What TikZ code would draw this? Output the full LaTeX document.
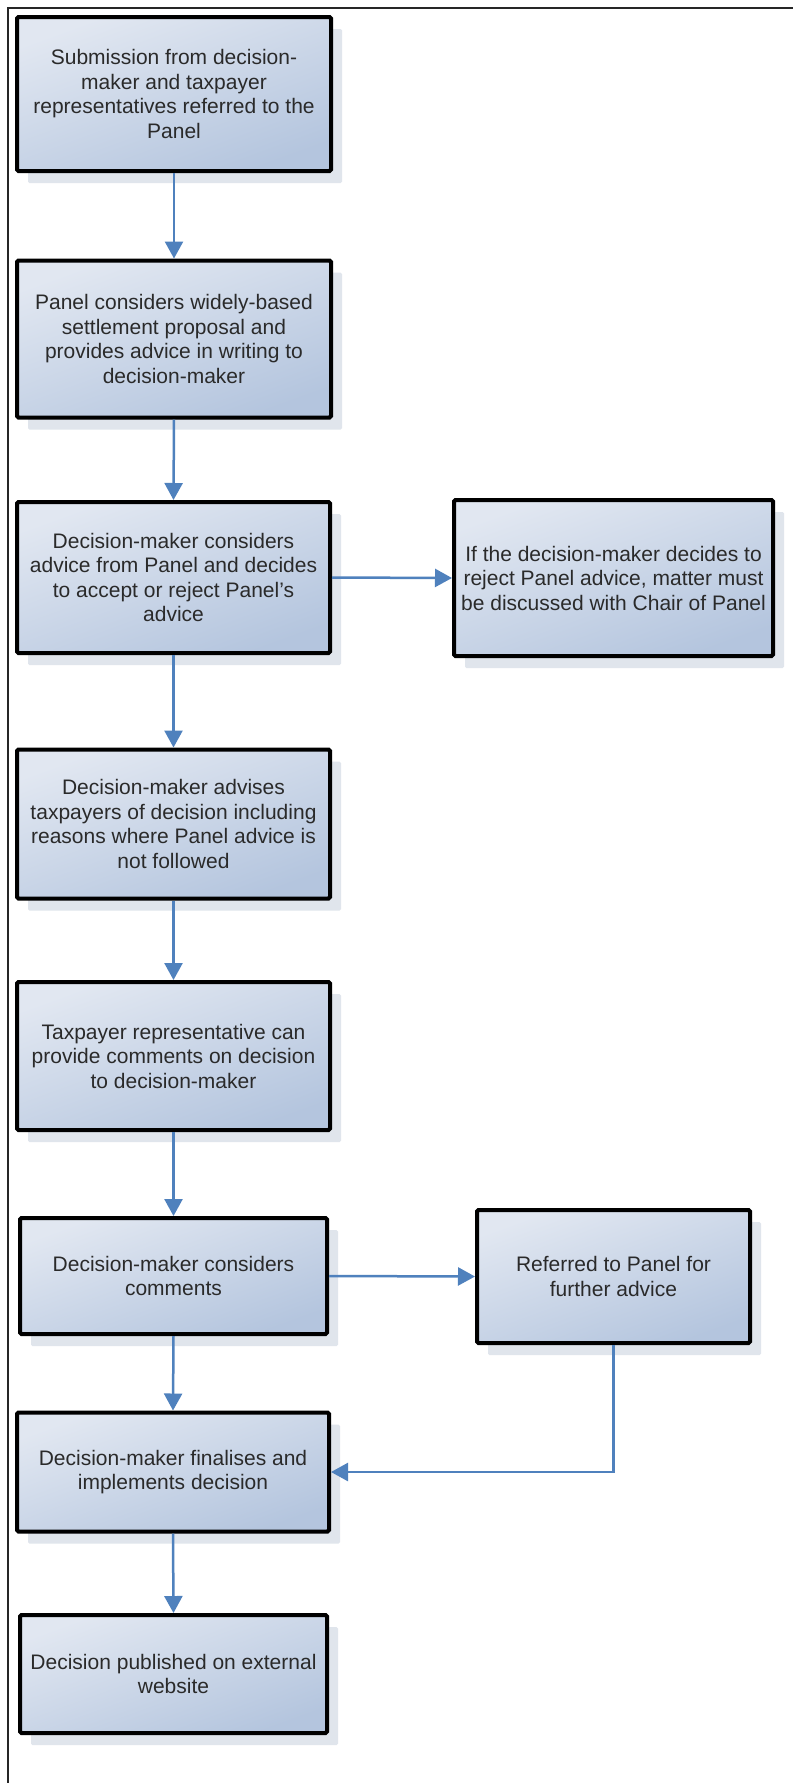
\documentclass[tikz,border=0pt]{standalone}
\usepackage{fontspec}
\setmainfont{Liberation Sans}
\usetikzlibrary{arrows.meta,shadows}
\definecolor{boxtop}{RGB}{225,231,241}
\definecolor{boxbot}{RGB}{180,197,222}
\definecolor{shadowcol}{RGB}{224,229,236}
\definecolor{arrowcol}{RGB}{79,129,189}
\definecolor{txtcol}{RGB}{42,42,42}
\tikzset{
  stepbox/.style={draw=black, line width=4pt, rounded corners=1.5pt,
    top color=boxtop, bottom color=boxbot, shading angle=20,
    drop shadow={shadow xshift=11pt, shadow yshift=-12pt, fill=shadowcol, opacity=1},
    align=center, text=txtcol, inner sep=3pt,
    font=\fontsize{21}{24.5}\selectfont},
  flow/.style={draw=arrowcol, line width=2.5pt, -{Triangle[length=17pt,width=18pt]}},
  frameline/.style={draw=black!85, line width=1.5pt}
}
\begin{document}
\begin{tikzpicture}[x=1pt,y=-1pt]
\useasboundingbox (0,0) rectangle (793,1783);
\fill[white] (0,0) rectangle (793,1783);
\draw[frameline] (8,1783) -- (8,8) -- (793,8);

\node[stepbox, minimum width=314pt, minimum height=154pt] (b1) at (174,94)
  {Submission from decision-\\maker and taxpayer\\representatives referred to the\\Panel};
\node[stepbox, minimum width=314pt, minimum height=157pt] (b2) at (174,339)
  {Panel considers widely-based\\settlement proposal and\\provides advice in writing to\\decision-maker};
\node[stepbox, minimum width=313pt, minimum height=151pt] (b3) at (173.5,577.5)
  {Decision-maker considers\\advice from Panel and decides\\to accept or reject Panel's\\advice};
\node[stepbox, minimum width=319pt, minimum height=156pt] (r1) at (613.5,578)
  {If the decision-maker decides to\\reject Panel advice, matter must\\be discussed with Chair of Panel};
\node[stepbox, minimum width=313pt, minimum height=149pt] (b4) at (173.5,824)
  {Decision-maker advises\\taxpayers of decision including\\reasons where Panel advice is\\not followed};
\node[stepbox, minimum width=313pt, minimum height=148pt] (b5) at (173.5,1056)
  {Taxpayer representative can\\provide comments on decision\\to decision-maker};
\node[stepbox, minimum width=307pt, minimum height=116pt] (b6) at (173.5,1276)
  {Decision-maker considers\\comments};
\node[stepbox, minimum width=273pt, minimum height=133pt] (r2) at (613.5,1276.5)
  {Referred to Panel for\\further advice};
\node[stepbox, minimum width=312pt, minimum height=119pt] (b7) at (173,1472)
  {Decision-maker finalises and\\implements decision};
\node[stepbox, minimum width=307pt, minimum height=118pt] (b8) at (173.5,1674)
  {Decision published on external\\website};

\draw[flow] (b1.south) -- (b2.north);
\draw[flow] (b2.south) -- (b3.north);
\draw[flow] (b3.east) -- (r1.west);
\draw[flow] (b3.south) -- (b4.north);
\draw[flow] (b4.south) -- (b5.north);
\draw[flow] (b5.south) -- (b6.north);
\draw[flow] (b6.east) -- (r2.west);
\draw[flow] (b6.south) -- (b7.north);
\draw[flow] (r2.south) |- (b7.east);
\draw[flow] (b7.south) -- (b8.north);
\end{tikzpicture}
\end{document}
